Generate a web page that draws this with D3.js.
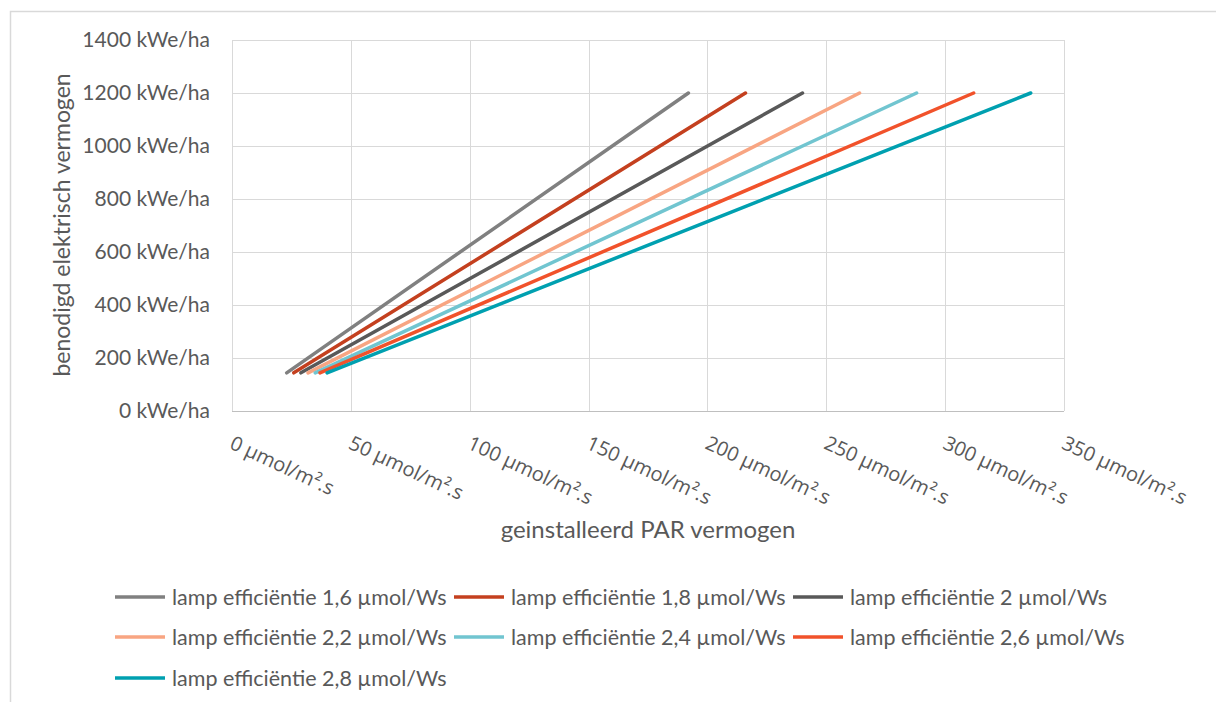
<!DOCTYPE html>
<html>
<head>
<meta charset="utf-8">
<title>benodigd elektrisch vermogen</title>
<script src="https://d3js.org/d3.v7.min.js"></script>
<style>
  body { margin: 0; background: #fff; }
  text { font-family: Lato, "Open Sans", sans-serif; fill: #595959; }
  .grid line { stroke: #d9d9d9; stroke-width: 1px; }
  .domain { display: none; }
</style>
</head>
<body>
<svg width="1216" height="702"></svg>
<script>
// values
const efficiencies = ['1,6', '1,8', '2', '2,2', '2,4', '2,6', '2,8'];
const startPar = [23, 26, 29, 32, 35, 37, 40];       // µmol/m².s at the low end
const endPar = [192, 216, 240, 264, 288, 312, 336];  // µmol/m².s at 1200 kWe/ha
const startPower = 144;                               // kWe/ha
const endPower = 1200;                                // kWe/ha
const colors = ['#808080', '#c4401f', '#595959', '#f8a582', '#71c5d0', '#f1522b', '#00a0b0'];
const xTicks = [0, 50, 100, 150, 200, 250, 300, 350];
const yTicks = [0, 200, 400, 600, 800, 1000, 1200, 1400];

const svg = d3.select('svg');

// outer chart frame
svg.append('rect')
  .attr('x', 10.5).attr('y', 11.5)
  .attr('width', 1230).attr('height', 720)
  .attr('fill', 'none').attr('stroke', '#d9d9d9').attr('stroke-width', 1.5);

const x = d3.scaleLinear().domain([0, 350]).range([232, 1064]);
const y = d3.scaleLinear().domain([0, 1400]).range([411, 40]);

// gridlines
svg.append('g').attr('class', 'grid')
  .selectAll('line.h').data(yTicks.slice(1)).enter().append('line')
  .attr('x1', x(0)).attr('x2', x(350))
  .attr('y1', d => Math.round(y(d)) + 0.5).attr('y2', d => Math.round(y(d)) + 0.5);
svg.append('g').attr('class', 'grid')
  .selectAll('line.v').data(xTicks).enter().append('line')
  .attr('y1', y(0)).attr('y2', y(1400))
  .attr('x1', d => Math.round(x(d)) + 0.5).attr('x2', d => Math.round(x(d)) + 0.5);

// x baseline
svg.append('line')
  .attr('x1', x(0)).attr('x2', x(350))
  .attr('y1', Math.round(y(0)) + 0.5).attr('y2', Math.round(y(0)) + 0.5)
  .attr('stroke', '#bfbfbf').attr('stroke-width', 1);

// y axis labels
const yAxis = d3.axisLeft(y).tickValues(yTicks).tickSize(0).tickPadding(22)
  .tickFormat(d => d + ' kWe/ha');
svg.append('g').attr('transform', `translate(${x(0)},0)`).call(yAxis)
  .selectAll('text').style('font-size', '21px').attr('fill', '#595959')
  .style('font-family', 'Lato, sans-serif');

// x axis labels, rotated
const xAxis = d3.axisBottom(x).tickValues(xTicks).tickSize(0)
  .tickFormat(d => d + ' µmol/m².s');
const gx = svg.append('g').attr('transform', `translate(0,${y(0)})`).call(xAxis);
gx.selectAll('text')
  .style('font-size', '20px').attr('fill', '#595959')
  .style('font-family', '"Open Sans", sans-serif')
  .attr('text-anchor', 'start')
  .attr('dy', null)
  .attr('y', 0)
  .attr('transform', 'translate(-4,37) rotate(25)');

// series
const line = d3.line().x(d => x(d[0])).y(d => y(d[1]));
efficiencies.forEach((e, i) => {
  svg.append('path')
    .datum([[startPar[i], startPower], [endPar[i], endPower]])
    .attr('d', line)
    .attr('fill', 'none')
    .attr('stroke', colors[i])
    .attr('stroke-width', 3.5)
    .attr('stroke-linecap', 'round');
});

// axis titles
svg.append('text')
  .attr('x', 648).attr('y', 538)
  .attr('text-anchor', 'middle')
  .style('font-size', '24px')
  .text('geinstalleerd PAR vermogen');

svg.append('text')
  .attr('transform', 'translate(70,225) rotate(-90)')
  .attr('text-anchor', 'middle')
  .style('font-size', '23px')
  .text('benodigd elektrisch vermogen');

// legend
const legendX = [115, 454, 793];
const legendY = [597, 637, 678];
const legend = svg.append('g');
efficiencies.forEach((e, i) => {
  const lx = legendX[i % 3], ly = legendY[Math.floor(i / 3)];
  legend.append('line')
    .attr('x1', lx).attr('x2', lx + 50)
    .attr('y1', ly).attr('y2', ly)
    .attr('stroke', colors[i]).attr('stroke-width', 3.5);
  legend.append('text')
    .attr('x', lx + 57).attr('y', ly)
    .attr('dy', '0.35em')
    .style('font-size', '21.5px')
    .text('lamp efficiëntie ' + e + ' µmol/Ws');
});
</script>
</body>
</html>
